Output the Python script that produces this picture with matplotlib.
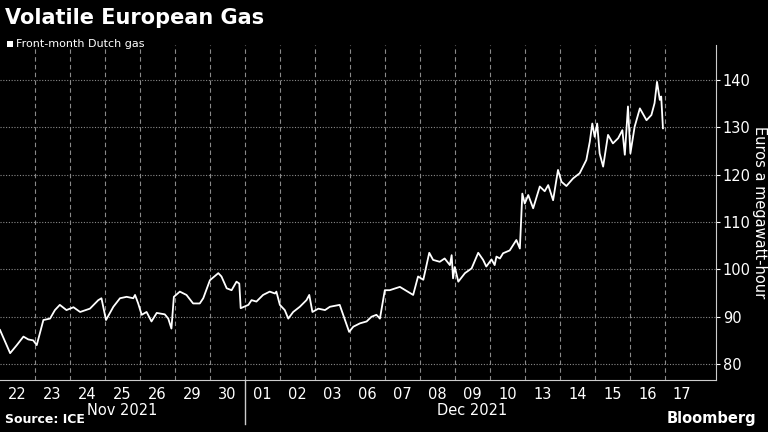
import matplotlib.pyplot as plt
from matplotlib.patches import Rectangle

# trading day positions (0 = start of Nov 22) and prices, EUR/MWh
day_pos = [0, 0.29, 0.48, 0.67, 0.81, 0.95, 1.05, 1.24, 1.43, 1.57, 1.71, 1.90, 2.10, 2.29, 2.57,
           2.81, 2.90, 3.03, 3.24, 3.43, 3.62, 3.81, 3.86, 3.95, 4.05, 4.19, 4.33, 4.48, 4.71, 4.81,
           4.90, 4.97, 5.14, 5.33, 5.52, 5.71, 5.81, 6.0, 6.24, 6.33, 6.48, 6.62, 6.76, 6.84, 6.88,
           7.10, 7.19, 7.33, 7.52, 7.71, 7.86, 7.90, 8.0, 8.14, 8.24, 8.38, 8.57, 8.76, 8.84, 8.93,
           9.10, 9.29, 9.43, 9.71, 9.86, 9.98, 10.10, 10.29, 10.48, 10.62, 10.76, 10.86, 11.0, 11.14,
           11.43, 11.81, 11.95, 12.10, 12.27, 12.38, 12.57, 12.71, 12.86, 12.91, 12.95, 13.0, 13.10,
           13.29, 13.48, 13.67, 13.81, 13.90, 14.05, 14.14, 14.19, 14.29, 14.38, 14.57, 14.76, 14.86,
           14.93, 15.0, 15.10, 15.24, 15.43, 15.57, 15.67, 15.81, 15.95, 16.05, 16.19, 16.38, 16.57,
           16.76, 16.86, 16.93, 17.0, 17.07, 17.14, 17.24, 17.38, 17.52, 17.67, 17.79, 17.86, 17.95,
           18.02, 18.14, 18.29, 18.48, 18.62, 18.71, 18.78, 18.86, 18.90, 18.95]
price = [87.2, 82.3, 84, 85.8, 85.2, 85, 84, 89.3, 89.6, 91.4, 92.5, 91.4, 92, 91, 91.7,
         93.5, 93.9, 89.3, 92.1, 93.9, 94.2, 93.9, 94.6, 92.8, 90.4, 91, 89, 90.8, 90.5, 89.6,
         87.5, 94.2, 95.3, 94.6, 92.8, 92.8, 93.9, 97.7, 99.2, 98.5, 96, 95.6, 97.4, 97, 91.8,
         92.5, 93.5, 93.2, 94.6, 95.3, 94.9, 95.3, 92.5, 91.4, 89.6, 91, 92.1, 93.5, 94.6, 91,
         91.7, 91.4, 92.1, 92.5, 89.3, 86.8, 87.9, 88.6, 89, 90, 90.4, 89.6, 95.6, 95.6,
         96.3, 94.6, 98.5, 97.8, 103.5, 102, 101.6, 102.3, 100.9, 103, 98.1, 100.5, 97.4,
         99.2, 100.2, 103.5, 102, 100.6, 102.1, 100.9, 102.7, 102.3, 103.4, 104, 106.2, 104.4,
         116, 113.9, 115.7, 112.9, 117.5, 116.5, 117.8, 114.6, 121, 118.5, 117.6, 119.2, 120.3,
         123.1, 127, 130.8, 128, 130.8, 124.5, 121.7, 128.4, 126.6, 127.7, 129.4, 124.2, 134.4,
         124.5, 130.1, 134, 131.5, 132.6, 135.1, 139.6, 135.8, 136.5, 129.8]
day_labels = ['22', '23', '24', '25', '26', '29', '30', '01', '02', '03', '06', '07', '08',
              '09', '10', '13', '14', '15', '16', '17']
months = [('Nov 2021', 3.5), ('Dec 2021', 13.5)]
y_ticks = [80, 90, 100, 110, 120, 130, 140]

fig = plt.figure(figsize=(7.68, 4.32), dpi=100, facecolor='black')
ax = fig.add_axes([0, 0.12, 0.932, 0.776], facecolor='black')
ax.plot(day_pos, price, color='white', lw=1.3)
ax.set_xlim(0, 20.46)
ax.set_ylim(76.6, 147.4)

for d in range(1, 20):
    ax.axvline(d, color='#8a8a8a', ls=(0, (4, 3)), lw=0.8, zorder=0)
for v in y_ticks:
    ax.axhline(v, color='#8a8a8a', ls=(0, (1, 1.5)), lw=0.8, zorder=0)

ax.yaxis.tick_right()
ax.set_yticks(y_ticks)
ax.tick_params(axis='y', colors='white', labelsize=10.5, length=3, direction='out', pad=2)
ax.set_xticks([i + 0.5 for i in range(len(day_labels))])
ax.set_xticklabels(day_labels)
ax.tick_params(axis='x', colors='white', labelsize=10.5, length=0, pad=5)
for s in ['top', 'left']:
    ax.spines[s].set_visible(False)
for s in ['right', 'bottom']:
    ax.spines[s].set_color('#cccccc')
ax.yaxis.set_label_position('right')
ax.set_ylabel('Euros a megawatt-hour', color='white', fontsize=10.5, rotation=270, labelpad=12)

for name, x in months:
    ax.text(x, -0.09, name, transform=ax.get_xaxis_transform(), color='white',
            fontsize=10.5, ha='center', va='center')
ax.plot([7, 7], [0, -0.13], transform=ax.get_xaxis_transform(), color='#cccccc',
        lw=1, clip_on=False)

fig.text(0.007, 0.958, 'Volatile European Gas', color='white', fontsize=15,
         fontweight='bold', va='center')
fig.patches.append(Rectangle((0.009, 0.891), 0.008, 0.015, transform=fig.transFigure,
                             facecolor='white'))
fig.text(0.021, 0.898, 'Front-month Dutch gas', color='white', fontsize=8, va='center')
fig.text(0.007, 0.028, 'Source: ICE', color='white', fontsize=9, fontweight='bold',
         va='center')
fig.text(0.985, 0.032, 'Bloomberg', color='white', fontsize=10.5, fontweight='bold',
         va='center', ha='right')

fig.savefig('out.png', facecolor='black')
